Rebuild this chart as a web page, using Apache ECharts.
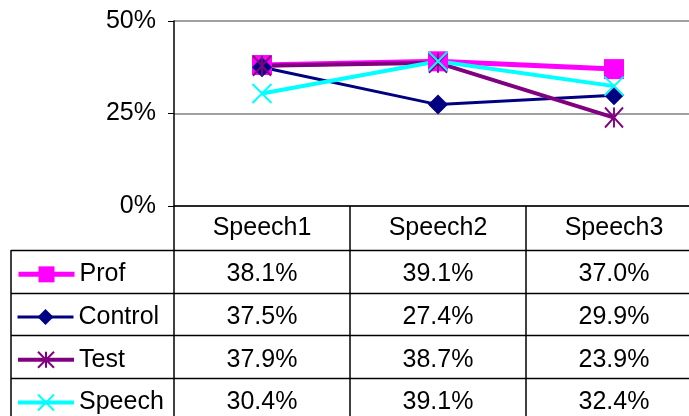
<!DOCTYPE html>
<html>
<head>
<meta charset="utf-8">
<script src="https://cdn.jsdelivr.net/npm/echarts@6/dist/echarts.min.js"></script>
<style>
  html, body { margin: 0; padding: 0; background: #fff; overflow: hidden; }
  /* plot runs a bit past the right edge of the window, like the original */
  #chart { width: 702px; height: 416px; }
</style>
</head>
<body>
<div id="chart"></div>
<script>
// data
const categories = ['Speech1', 'Speech2', 'Speech3']
const seriesNames = ['Prof', 'Control', 'Test', 'Speech']
const prof = [38.1, 39.1, 37.0]
const control = [37.5, 27.4, 29.9]
const test = [37.9, 38.7, 23.9]
const speech = [30.4, 39.1, 32.4]
const yTicks = [0, 25, 50]

const font = 'Liberation Sans, Arial, sans-serif'
const fs = 25
const tableTop = 250
const rowH = 42.7

// asterisk and cross markers (stroked)
const asterisk = 'path://M5,0L5,10M0,0L10,10M10,0L0,10'
const cross = 'path://M0,0L10,10M10,0L0,10'

const colors = ['#FF00FF', '#000080', '#800080', '#00FFFF']
const widths = [5, 3, 4, 4]

function mkSeries (i, data, symbol, size, stroked) {
  return {
    name: seriesNames[i],
    type: 'line',
    data: data,
    symbol: symbol,
    symbolSize: size,
    showAllSymbol: true,
    animation: false,
    lineStyle: { color: colors[i], width: widths[i] },
    itemStyle: {
      color: colors[i],
      borderColor: colors[i],
      borderWidth: stroked ? 2 : 0
    },
    emphasis: { disabled: true }
  }
}

const allData = [prof, control, test, speech]
const series = [
  mkSeries(0, prof, 'rect', 20, false),
  mkSeries(1, control, 'diamond', 20, false),
  mkSeries(2, test, asterisk, [18, 20], true),
  mkSeries(3, speech, cross, 19, true)
]

// one legend per table row
const legends = seriesNames.map(function (n, i) {
  return {
    data: [n],
    left: 16,
    top: tableTop + rowH * i + rowH / 2 - 10,
    orient: 'horizontal',
    padding: 0,
    itemWidth: 56,
    itemHeight: 20,
    itemGap: 6,
    selectedMode: false,
    lineStyle: { width: widths[i] },
    textStyle: { fontFamily: font, fontSize: fs, color: '#000', lineHeight: 26 }
  }
})

const chart = echarts.init(document.getElementById('chart'))
chart.setOption({
  backgroundColor: '#fff',
  animation: false,
  grid: { left: 174, top: 21, right: 0, height: 185, outerBoundsMode: 'none' },
  legend: legends,
  xAxis: {
    type: 'category',
    data: categories,
    boundaryGap: true,
    axisLine: { lineStyle: { color: '#000', width: 1.5 } },
    axisTick: { show: false },
    axisLabel: { fontFamily: font, fontSize: fs, color: '#000', margin: 10 },
    splitLine: { show: false }
  },
  yAxis: {
    type: 'value',
    min: yTicks[0],
    max: yTicks[yTicks.length - 1],
    interval: yTicks[1] - yTicks[0],
    axisLine: { show: true, lineStyle: { color: '#000', width: 1.5 } },
    axisTick: { show: true, length: 6, lineStyle: { color: '#000' } },
    axisLabel: { fontFamily: font, fontSize: fs, color: '#000', margin: 18, formatter: '{value}%' },
    splitLine: { show: true, lineStyle: { color: '#808080', width: 1.5 } }
  },
  series: series
})

// the data table under the plot
function buildTable () {
  const centers = categories.map(function (c, i) {
    return chart.convertToPixel({ xAxisIndex: 0 }, i)
  })
  const band = centers[1] - centers[0]
  const edges = [centers[0] - band / 2].concat(centers.map(function (c) { return c + band / 2 }))
  const axisY = chart.convertToPixel({ yAxisIndex: 0 }, 0)
  const bottom = 416
  const line = { stroke: '#000', lineWidth: 1.5 }
  const els = []
  // horizontal rules
  for (let r = 0; r < seriesNames.length; r++) {
    const y = Math.round(tableTop + rowH * r) + 0.5
    els.push({ type: 'line', shape: { x1: 11, y1: y, x2: 702, y2: y }, style: line, silent: true })
  }
  // vertical rules
  els.push({ type: 'line', shape: { x1: 11, y1: tableTop, x2: 11, y2: bottom }, style: line, silent: true })
  edges.forEach(function (x) {
    els.push({ type: 'line', shape: { x1: x, y1: axisY, x2: x, y2: bottom }, style: line, silent: true })
  })
  // values
  allData.forEach(function (arr, r) {
    arr.forEach(function (v, c) {
      els.push({
        type: 'text',
        silent: true,
        style: {
          x: centers[c],
          y: tableTop + rowH * r + rowH / 2 + 3,
          text: v.toFixed(1) + '%',
          fontFamily: font,
          fontSize: fs,
          fill: '#000',
          align: 'center',
          verticalAlign: 'middle'
        }
      })
    })
  })
  chart.setOption({ graphic: { elements: els } })
}
buildTable()
</script>
</body>
</html>
